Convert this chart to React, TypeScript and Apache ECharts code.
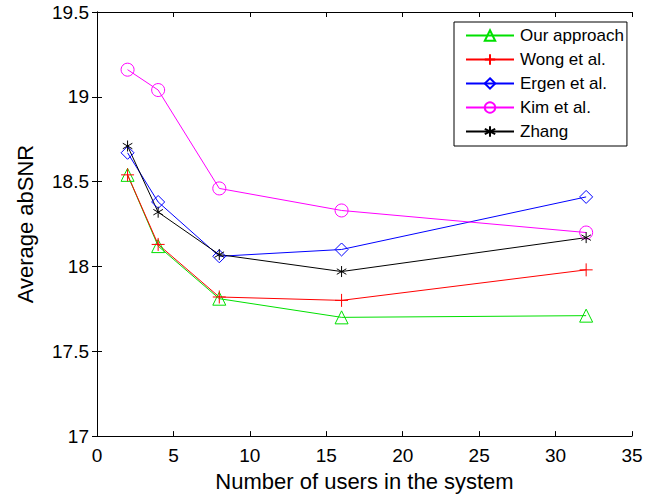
import React, { useEffect, useRef } from "react";
import * as echarts from "echarts";

const xValues = [2, 4, 8, 16, 32];
const seriesNames = ["Our approach", "Wong et al.", "Ergen et al.", "Kim et al.", "Zhang"];
const ourApproach = [18.54, 18.12, 17.81, 17.70, 17.71];
const wong = [18.54, 18.13, 17.82, 17.80, 17.98];
const ergen = [18.67, 18.38, 18.06, 18.10, 18.41];
const kim = [19.16, 19.04, 18.46, 18.33, 18.20];
const zhang = [18.71, 18.32, 18.07, 17.97, 18.17];
const xTitle = "Number of users in the system";
const yTitle = "Average abSNR";

const FONT = "'Liberation Sans', Arial, Helvetica, sans-serif";

const PLUS = "path://M0,-10L0,10M-10,0L10,0";
const STAR = "path://M0,-10L0,10M-8.66,-5L8.66,5M-8.66,5L8.66,-5";

export default function App() {
  const ref = useRef<HTMLDivElement>(null);
  useEffect(() => {
    if (!ref.current) return;
    const chart = echarts.init(ref.current, null, { renderer: "svg" });
    const mk = (name: string, data: number[], color: string, symbol: string, size: number) => ({
      name,
      type: "line",
      data: xValues.map((x, i) => [x, data[i]]),
      symbol,
      symbolSize: size,
      symbolKeepAspect: true,
      showAllSymbol: true,
      lineStyle: { color, width: 1 },
      itemStyle: { color: "none", borderColor: color, borderWidth: 1 },
      emphasis: { disabled: true },
      z: 2,
    });
    const tickStyle = { show: true, inside: true, length: 5, lineStyle: { color: "#000", width: 1 } };
    chart.setOption({
      animation: false,
      backgroundColor: "#fff",
      textStyle: { fontFamily: FONT },
      grid: { left: 97, right: 29, top: 12, bottom: 58, containLabel: false },
      legend: {
        orient: "vertical",
        left: 454,
        top: 22,
        padding: [5, 3, 6, 11],
        itemGap: 7,
        itemWidth: 48,
        itemHeight: 13,
        backgroundColor: "#fff",
        borderColor: "#000",
        borderWidth: 1,
        textStyle: { fontFamily: FONT, fontSize: 17, color: "#000", padding: [0, 0, 0, 1] },
        data: seriesNames,
      },
      xAxis: [
        {
          type: "value",
          min: 0,
          max: 35,
          interval: 5,
          name: xTitle,
          nameLocation: "middle",
          nameGap: 33,
          nameTextStyle: { fontFamily: FONT, fontSize: 22, color: "#000" },
          axisLine: { show: true, lineStyle: { color: "#000", width: 1 } },
          axisTick: tickStyle,
          axisLabel: { fontFamily: FONT, fontSize: 19, color: "#000", margin: 10 },
          splitLine: { show: false },
        },
        {
          type: "value",
          position: "top",
          min: 0,
          max: 35,
          interval: 5,
          axisLine: { show: true, lineStyle: { color: "#000", width: 1 } },
          axisTick: tickStyle,
          axisLabel: { show: false },
          splitLine: { show: false },
        },
      ],
      yAxis: [
        {
          type: "value",
          min: 17,
          max: 19.5,
          interval: 0.5,
          name: yTitle,
          nameLocation: "middle",
          nameGap: 61,
          nameRotate: 90,
          nameTextStyle: { fontFamily: FONT, fontSize: 22, color: "#000" },
          axisLine: { show: true, lineStyle: { color: "#000", width: 1 } },
          axisTick: tickStyle,
          axisLabel: { fontFamily: FONT, fontSize: 19, color: "#000", margin: 8 },
          splitLine: { show: false },
        },
        {
          type: "value",
          position: "right",
          min: 17,
          max: 19.5,
          interval: 0.5,
          axisLine: { show: true, lineStyle: { color: "#000", width: 1 } },
          axisTick: tickStyle,
          axisLabel: { show: false },
          splitLine: { show: false },
        },
      ],
      series: [
        mk(seriesNames[0], ourApproach, "#00e000", "triangle", 13),
        mk(seriesNames[1], wong, "#ff0000", PLUS, 13),
        mk(seriesNames[2], ergen, "#0000ff", "diamond", 13),
        mk(seriesNames[3], kim, "#ff00ff", "circle", 13),
        mk(seriesNames[4], zhang, "#000000", STAR, 11),
      ],
    });
    return () => chart.dispose();
  }, []);
  return <div ref={ref} style={{ width: 661, height: 497, position: "absolute", left: 0, top: 0 }} />;
}
